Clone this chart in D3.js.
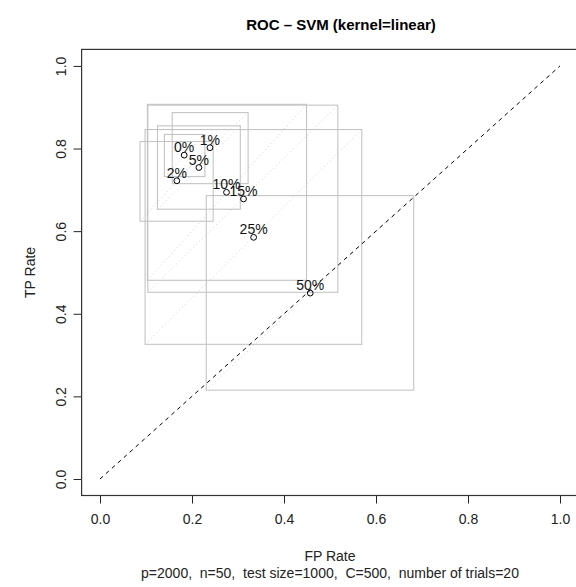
<!DOCTYPE html>
<html>
<head>
<meta charset="utf-8">
<script src="https://cdn.jsdelivr.net/npm/d3@7"></script>
<style>
  body { margin: 0; background: #fff; }
  svg { display: block; font-family: "Liberation Sans", Arial, sans-serif; }
</style>
</head>
<body>
<div id="chart"></div>
<script>
// labels = share of flipped training labels
const LABELS = ["0%", "1%", "2%", "5%", "10%", "15%", "25%", "50%"];
const FP_MEAN = [0.183, 0.239, 0.167, 0.215, 0.275, 0.312, 0.334, 0.457];
const TP_MEAN = [0.784, 0.802, 0.722, 0.754, 0.694, 0.678, 0.585, 0.450];
const FP_LOW = [0.140, 0.157, 0.087, 0.125, 0.103, 0.104, 0.098, 0.231];
const FP_HIGH = [0.228, 0.322, 0.246, 0.305, 0.449, 0.517, 0.569, 0.682];
const TP_LOW = [0.732, 0.715, 0.624, 0.653, 0.481, 0.452, 0.326, 0.215];
const TP_HIGH = [0.834, 0.887, 0.817, 0.855, 0.907, 0.905, 0.846, 0.686];
const TICKS = [0, 0.2, 0.4, 0.6, 0.8, 1.0];

const WIDTH = 576;
const HEIGHT = 587;

const DATA = LABELS.map((label, i) => ({
  label: label,
  fp: FP_MEAN[i],
  tp: TP_MEAN[i],
  fpLo: FP_LOW[i],
  fpHi: FP_HIGH[i],
  tpLo: TP_LOW[i],
  tpHi: TP_HIGH[i]
}));

const SVG = d3.select("#chart").append("svg")
  .attr("width", WIDTH)
  .attr("height", HEIGHT);

// R style: 4% padding on each side of [0,1]
const X_SCALE = d3.scaleLinear().domain([-0.04, 1.04]).range([81.6, 578.4]);
const Y_SCALE = d3.scaleLinear().domain([-0.04, 1.04]).range([495.5, 49.4]);

const FMT = d3.format(".1f");

// x axis
const X_AXIS = d3.axisBottom(X_SCALE)
  .tickValues(TICKS)
  .tickFormat(FMT)
  .tickSize(8)
  .tickPadding(11)
  .tickSizeOuter(0);

const XG = SVG.append("g")
  .attr("id", "x-axis")
  .attr("transform", "translate(0," + Y_SCALE(-0.04) + ")")
  .call(X_AXIS);
XG.select(".domain").remove();
XG.selectAll("line").attr("stroke", "#222");
XG.selectAll("text")
  .attr("fill", "#222")
  .style("font-size", "14px")
  .style("font-family", "Liberation Sans, Arial, sans-serif");

// y axis, labels turned like R's default las=0
const Y_AXIS = d3.axisLeft(Y_SCALE)
  .tickValues(TICKS)
  .tickFormat(FMT)
  .tickSize(8)
  .tickSizeOuter(0);

const YG = SVG.append("g")
  .attr("id", "y-axis")
  .attr("transform", "translate(" + X_SCALE(-0.04) + ",0)")
  .call(Y_AXIS);
YG.select(".domain").remove();
YG.selectAll("line").attr("stroke", "#222");
YG.selectAll("text")
  .attr("fill", "#222")
  .attr("x", 0)
  .attr("dy", 0)
  .attr("text-anchor", "middle")
  .attr("transform", "translate(-16,0) rotate(-90)")
  .style("font-size", "14px")
  .style("font-family", "Liberation Sans, Arial, sans-serif");

// gray spread boxes
SVG.append("g")
  .selectAll("rect")
  .data(DATA)
  .enter()
  .append("rect")
  .attr("x", (d) => X_SCALE(d.fpLo))
  .attr("y", (d) => Y_SCALE(d.tpHi))
  .attr("width", (d) => X_SCALE(d.fpHi) - X_SCALE(d.fpLo))
  .attr("height", (d) => Y_SCALE(d.tpLo) - Y_SCALE(d.tpHi))
  .attr("fill", "none")
  .attr("stroke", "#c4c4c4")
  .attr("stroke-width", 1.1);

// faint dotted diagonal of each box
SVG.append("g")
  .selectAll("line")
  .data(DATA)
  .enter()
  .append("line")
  .attr("x1", (d) => X_SCALE(d.fpLo))
  .attr("y1", (d) => Y_SCALE(d.tpLo))
  .attr("x2", (d) => X_SCALE(d.fpHi))
  .attr("y2", (d) => Y_SCALE(d.tpHi))
  .attr("stroke", "#d0d0d0")
  .attr("stroke-width", 1)
  .attr("stroke-dasharray", "1,3");

// chance line
SVG.append("line")
  .attr("x1", X_SCALE(0))
  .attr("y1", Y_SCALE(0))
  .attr("x2", X_SCALE(1))
  .attr("y2", Y_SCALE(1))
  .attr("stroke", "#000")
  .attr("stroke-width", 1)
  .attr("stroke-dasharray", "4,4");

// plot box
SVG.append("rect")
  .attr("x", X_SCALE(-0.04))
  .attr("y", Y_SCALE(1.04))
  .attr("width", X_SCALE(1.04) - X_SCALE(-0.04))
  .attr("height", Y_SCALE(-0.04) - Y_SCALE(1.04))
  .attr("fill", "none")
  .attr("stroke", "#333")
  .attr("stroke-width", 1.2);

// mean points
SVG.append("g")
  .selectAll("circle")
  .data(DATA)
  .enter()
  .append("circle")
  .attr("cx", (d) => X_SCALE(d.fp))
  .attr("cy", (d) => Y_SCALE(d.tp))
  .attr("r", 2.9)
  .attr("fill", "none")
  .attr("stroke", "#000")
  .attr("stroke-width", 1);

SVG.append("g")
  .selectAll("text")
  .data(DATA)
  .enter()
  .append("text")
  .attr("x", (d) => X_SCALE(d.fp))
  .attr("y", (d) => Y_SCALE(d.tp) - 3)
  .attr("text-anchor", "middle")
  .style("font-size", "14px")
  .attr("fill", "#111")
  .text((d) => d.label);

// titles
SVG.append("text")
  .attr("x", 341)
  .attr("y", 30)
  .attr("text-anchor", "middle")
  .style("font-size", "15px")
  .style("font-weight", "bold")
  .text("ROC \u2013 SVM (kernel=linear)");

SVG.append("text")
  .attr("x", 330)
  .attr("y", 561)
  .attr("text-anchor", "middle")
  .style("font-size", "14px")
  .attr("fill", "#222")
  .text("FP Rate");

SVG.append("text")
  .attr("x", 330)
  .attr("y", 578)
  .attr("text-anchor", "middle")
  .style("font-size", "14px")
  .style("white-space", "pre")
  .attr("fill", "#222")
  .text("p=2000,  n=50,  test size=1000,  C=500,  number of trials=20");

SVG.append("text")
  .attr("transform", "translate(35," + Y_SCALE(0.5) + ") rotate(-90)")
  .attr("text-anchor", "middle")
  .style("font-size", "14px")
  .attr("fill", "#222")
  .text("TP Rate");
</script>
</body>
</html>
